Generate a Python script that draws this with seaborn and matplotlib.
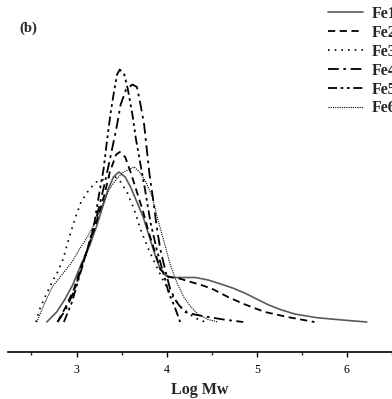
import pandas as pd
import matplotlib
matplotlib.use("Agg")
import matplotlib.pyplot as plt
import seaborn as sns

# molecular weight distribution curves (Log Mw vs. relative intensity)
fe1_x = [2.67, 2.78, 2.87, 2.96, 3.05, 3.14, 3.22, 3.29, 3.35, 3.41, 3.47, 3.54, 3.60, 3.67, 3.74, 3.80, 3.87,
         3.92, 3.99, 4.08, 4.19, 4.32, 4.46, 4.60, 4.74, 4.87, 5.01, 5.12, 5.26, 5.42, 5.67, 5.95, 6.22]
fe1_y = [0.00, 0.04, 0.09, 0.15, 0.23, 0.30, 0.38, 0.46, 0.53, 0.58, 0.60, 0.58, 0.54, 0.48, 0.42, 0.35, 0.27,
         0.22, 0.185, 0.178, 0.178, 0.178, 0.168, 0.152, 0.135, 0.115, 0.09, 0.07, 0.05, 0.032, 0.017, 0.008, 0.00]

fe2_x = [2.79, 2.88, 2.97, 3.05, 3.14, 3.23, 3.31, 3.37, 3.44, 3.48, 3.54, 3.60, 3.67, 3.74, 3.80, 3.87,
         3.93, 4.02, 4.13, 4.27, 4.41, 4.52, 4.68, 4.87, 5.09, 5.34, 5.64]
fe2_y = [0.00, 0.06, 0.13, 0.22, 0.31, 0.41, 0.51, 0.60, 0.67, 0.68, 0.66, 0.60, 0.52, 0.44, 0.36, 0.28,
         0.21, 0.18, 0.175, 0.16, 0.145, 0.13, 0.10, 0.07, 0.04, 0.02, 0.00]

fe3_x = [2.55, 2.59, 2.65, 2.73, 2.79, 2.85, 2.92, 2.99, 3.05, 3.14, 3.22, 3.30, 3.36, 3.43, 3.49, 3.56,
         3.64, 3.71, 3.80, 3.89, 3.97, 4.05, 4.16, 4.26, 4.35, 4.43]
fe3_y = [0.00, 0.05, 0.10, 0.16, 0.20, 0.25, 0.34, 0.42, 0.48, 0.53, 0.56, 0.57, 0.58, 0.58, 0.56, 0.52,
         0.45, 0.37, 0.29, 0.22, 0.16, 0.11, 0.06, 0.03, 0.01, 0.00]

fe4_x = [2.79, 2.88, 2.97, 3.05, 3.14, 3.23, 3.31, 3.37, 3.44, 3.49, 3.55, 3.62, 3.67, 3.71, 3.75, 3.78,
         3.81, 3.85, 3.89, 3.93, 3.99, 4.04, 4.11, 4.20, 4.31, 4.46, 4.63, 4.85]
fe4_y = [0.00, 0.05, 0.12, 0.21, 0.31, 0.43, 0.55, 0.65, 0.77, 0.87, 0.93, 0.95, 0.94, 0.87, 0.79, 0.69,
         0.59, 0.49, 0.38, 0.29, 0.20, 0.13, 0.08, 0.04, 0.03, 0.02, 0.01, 0.00]

fe5_x = [2.86, 2.95, 3.03, 3.12, 3.20, 3.25, 3.30, 3.34, 3.38, 3.42, 3.45, 3.48, 3.53, 3.57, 3.62, 3.66,
         3.70, 3.76, 3.82, 3.89, 3.96, 4.02, 4.09, 4.15]
fe5_y = [0.00, 0.08, 0.18, 0.29, 0.40, 0.51, 0.61, 0.73, 0.84, 0.93, 0.99, 1.01, 0.99, 0.93, 0.83, 0.73,
         0.65, 0.53, 0.40, 0.29, 0.20, 0.12, 0.06, 0.00]

fe6_x = [2.56, 2.64, 2.73, 2.84, 2.95, 3.03, 3.12, 3.21, 3.29, 3.36, 3.44, 3.52, 3.58, 3.64, 3.70, 3.77,
         3.84, 3.91, 3.98, 4.04, 4.11, 4.19, 4.27, 4.35, 4.46, 4.57]
fe6_y = [0.00, 0.07, 0.14, 0.19, 0.24, 0.29, 0.34, 0.40, 0.47, 0.53, 0.57, 0.60, 0.61, 0.62, 0.60, 0.56,
         0.50, 0.40, 0.31, 0.23, 0.16, 0.10, 0.06, 0.03, 0.01, 0.00]

labels = ["Fe1", "Fe2", "Fe3", "Fe4", "Fe5", "Fe6"]
xticks = [3, 4, 5, 6]

series = [(fe1_x, fe1_y), (fe2_x, fe2_y), (fe3_x, fe3_y),
          (fe4_x, fe4_y), (fe5_x, fe5_y), (fe6_x, fe6_y)]
styles = [
    dict(color="#5a5a5a", linestyle="-", linewidth=1.2),
    dict(color="black", linestyle=(0, (4, 2.5)), linewidth=1.3),
    dict(color="black", linestyle=(0, (1, 3)), linewidth=1.2),
    dict(color="black", linestyle=(0, (6, 2.5, 1.5, 2.5)), linewidth=1.3),
    dict(color="black", linestyle=(0, (5, 2, 1.5, 2, 1.5, 2)), linewidth=1.3),
    dict(color="black", linestyle=(0, (1, 1)), linewidth=0.8),
]

sns.set_style("white")
plt.rcParams["font.family"] = ["Liberation Serif", "DejaVu Serif"]

fig = plt.figure(figsize=(3.92, 3.99), dpi=100)
ax = fig.add_axes([8 / 392, 47 / 399, 1 - 8 / 392, 332 / 399])

for (xs, ys), name, st in zip(series, labels, styles):
    df = pd.DataFrame({"logmw": xs, "w": ys})
    sns.lineplot(data=df, x="logmw", y="w", ax=ax, label=name, estimator=None, sort=False, **st)

ax.set_xlim(2.24, 6.46)
ax.set_ylim(-0.12, 1.208)
for side in ["left", "top", "right"]:
    ax.spines[side].set_visible(False)
ax.spines["bottom"].set_linewidth(1.2)
ax.spines["bottom"].set_color("black")
ax.set_yticks([])
ax.set_ylabel("")
ax.set_xticks(xticks)
ax.set_xticks([2.5, 3.5, 4.5, 5.5, 6.5], minor=True)
ax.tick_params(axis="x", which="major", direction="out", length=3.6, width=1, bottom=True,
               labelsize=8.5, pad=5, colors="black")
ax.tick_params(axis="x", which="minor", direction="out", length=2.2, width=1, bottom=True)
ax.set_xlabel("Log Mw", fontsize=11.5, fontweight="bold", labelpad=4)

ax.legend_.remove()
handles, _ = ax.get_legend_handles_labels()
fig.legend(handles, labels, loc="upper left", bbox_to_anchor=(328 / 392, 1 - 6 / 399),
           frameon=False, borderpad=0, borderaxespad=0, handlelength=2.2, handletextpad=0.56,
           labelspacing=0.18, prop={"weight": "bold", "size": 11.5})

fig.text(28 / 392, 1 - 28 / 399, "(b)", fontsize=10.5, fontweight="bold", ha="center", va="center")

fig.savefig("out.png", dpi=100)
